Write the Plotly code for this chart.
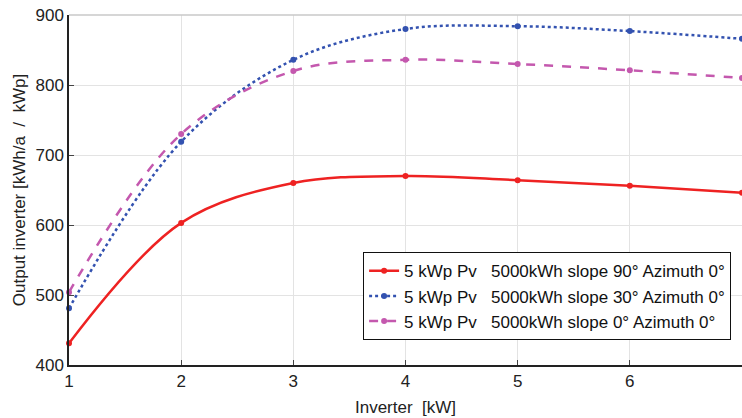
import plotly.graph_objects as go

inverter_kw = [1, 2, 3, 4, 5, 6, 7]
slope90 = [431, 603, 660, 670, 664, 656, 646]
slope30 = [481, 719, 836, 880, 884, 877, 866]
slope0 = [504, 730, 820, 836, 830, 821, 810]

names = [
    "5 kWp Pv\u00a0\u00a0\u00a05000kWh slope 90° Azimuth 0°",
    "5 kWp Pv\u00a0\u00a0\u00a05000kWh slope 30° Azimuth 0°",
    "5 kWp Pv\u00a0\u00a0\u00a05000kWh slope 0° Azimuth 0°",
]
series = [slope90, slope30, slope0]
colors = ["#ee2222", "#3352b0", "#c458ae"]
dashes = ["solid", "dot", "dash"]

fig = go.Figure()
for n, ys, c, d in zip(names, series, colors, dashes):
    fig.add_trace(go.Scatter(
        x=inverter_kw, y=ys, name=n, mode="lines+markers",
        line=dict(color=c, dash=d, width=2.5, shape="spline", smoothing=1.0),
        marker=dict(color=c, size=6),
        cliponaxis=False,
    ))

font = "Liberation Sans, Arial, sans-serif"
fig.update_layout(
    width=742, height=418,
    margin=dict(l=69, r=0, t=15, b=53),
    paper_bgcolor="white", plot_bgcolor="white",
    font=dict(family=font, color="#222222"),
    showlegend=True,
    legend=dict(
        x=0.437, y=0.322, xanchor="left", yanchor="top",
        bgcolor="white", bordercolor="#111111", borderwidth=1,
        font=dict(size=17, family=font, color="#111111"),
        itemwidth=30, tracegroupgap=0,
    ),
    xaxis=dict(
        range=[1, 7], tickvals=[1, 2, 3, 4, 5, 6, 7],
        showgrid=True, gridcolor="#e3e3e3", gridwidth=1,
        showline=True, linecolor="#222222", linewidth=1.5,
        ticks="inside", ticklen=5, tickcolor="#444444",
        tickfont=dict(size=17), automargin=False,
        title=dict(text="Inverter\u00a0\u00a0[kW]", font=dict(size=17), standoff=11),
        zeroline=False,
    ),
    yaxis=dict(
        range=[400, 900], tickvals=[400, 500, 600, 700, 800, 900],
        showgrid=True, gridcolor="#e3e3e3", gridwidth=1,
        showline=True, linecolor="#222222", linewidth=1.5,
        ticks="inside", ticklen=5, tickcolor="#444444",
        tickfont=dict(size=17), automargin=False,
        title=dict(text="Output inverter [kWh/a\u00a0\u00a0/\u00a0\u00a0kWp]", font=dict(size=17), standoff=6),
        zeroline=False,
    ),
)
fig.add_shape(type="line", xref="paper", yref="paper", x0=0, x1=1, y0=1, y1=1,
              line=dict(color="#c8c8c8", width=1.5))

fig.write_html("out.html", post_script="document.body.style.margin='0';",
               config={"displayModeBar": False})
